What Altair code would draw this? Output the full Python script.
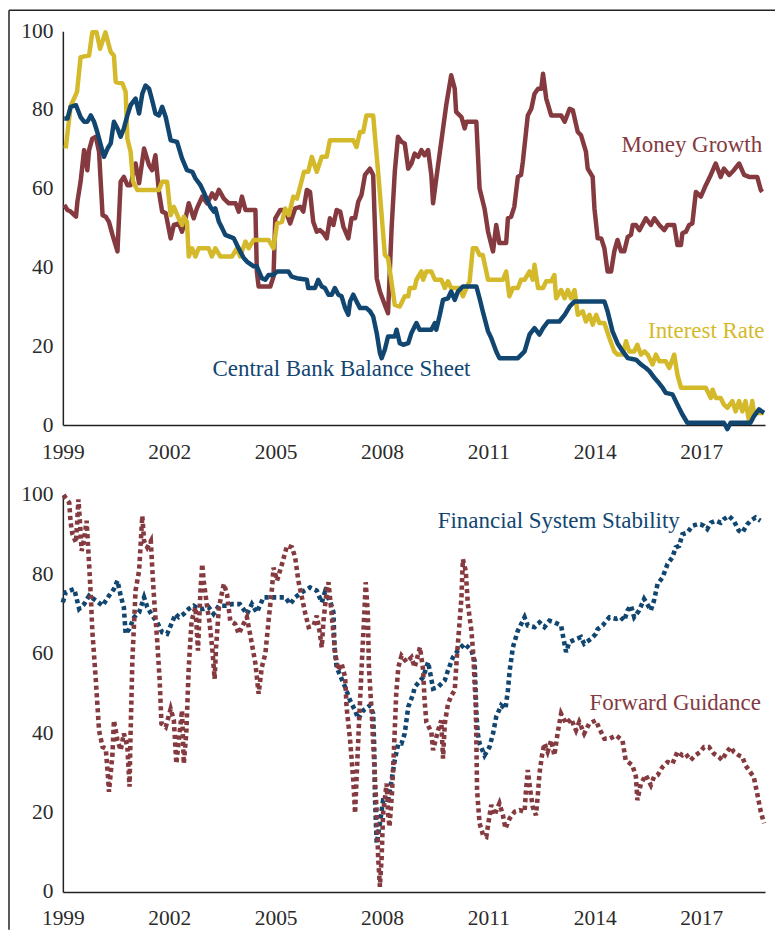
import altair as alt
import pandas as pd

# ---------------- data ----------------
YEAR_TICKS = [1999, 2002, 2005, 2008, 2011, 2014, 2017]
VALUE_TICKS = [0, 20, 40, 60, 80, 100]

mg_year = [1999.04, 1999.13, 1999.22, 1999.37, 1999.41, 1999.5, 1999.6, 1999.69, 1999.74, 1999.83, 1999.93,
           2000.02, 2000.12, 2000.21, 2000.3, 2000.4, 2000.54, 2000.63, 2000.72, 2000.82, 2000.91,
           2001.05, 2001.15, 2001.29, 2001.43, 2001.52, 2001.61, 2001.71, 2001.8, 2001.9,
           2002.04, 2002.13, 2002.27, 2002.36, 2002.46, 2002.55, 2002.69, 2002.78, 2002.93,
           2003.07, 2003.21, 2003.3, 2003.4, 2003.54, 2003.68, 2003.87, 2003.96,
           2004.05, 2004.15, 2004.43, 2004.47, 2004.52, 2004.85, 2004.94, 2004.99,
           2005.13, 2005.27, 2005.41, 2005.55, 2005.69, 2005.78, 2005.88, 2005.97,
           2006.06, 2006.16, 2006.25, 2006.35, 2006.44, 2006.53, 2006.63, 2006.72, 2006.82, 2006.91,
           2007.05, 2007.14, 2007.24, 2007.33, 2007.42, 2007.52, 2007.66, 2007.75, 2007.85, 2007.94,
           2008.08, 2008.17, 2008.27, 2008.36, 2008.45, 2008.55, 2008.64, 2008.74, 2008.83, 2008.92,
           2009.02, 2009.11, 2009.2, 2009.3, 2009.39, 2009.44, 2009.53, 2009.67, 2009.81, 2009.95,
           2010.05, 2010.09, 2010.24, 2010.33, 2010.38, 2010.66, 2010.75, 2010.89, 2010.99,
           2011.13, 2011.22, 2011.31, 2011.5, 2011.55, 2011.64, 2011.73, 2011.83, 2011.92, 2011.97,
           2012.11, 2012.21, 2012.3, 2012.4, 2012.49, 2012.54, 2012.63, 2012.77,
           2013.05, 2013.15, 2013.29, 2013.38, 2013.52, 2013.61, 2013.75, 2013.8, 2013.94, 2013.99,
           2014.08, 2014.18, 2014.27, 2014.36, 2014.46, 2014.55, 2014.64, 2014.74, 2014.83, 2014.93,
           2015.02, 2015.07, 2015.16, 2015.26, 2015.44, 2015.58, 2015.68, 2015.82, 2015.96,
           2016.05, 2016.24, 2016.33, 2016.43, 2016.47, 2016.57, 2016.66, 2016.75, 2016.85, 2016.99,
           2017.13, 2017.27, 2017.41, 2017.55, 2017.64, 2017.79, 2017.92,
           2018.07, 2018.21, 2018.35, 2018.58, 2018.68, 2018.72]
mg_val = [55.9, 54.6, 54.2, 52.9, 56.7, 61.8, 69.8, 64.7, 69.8, 72.7, 73.2,
          69.4, 53.3, 52.9, 51.6, 48.3, 44.1, 61.8, 63.0, 60.9, 60.9,
          66.4, 61.4, 70.2, 66.0, 64.7, 68.5, 59.2, 54.2, 53.8,
          47.4, 50.8, 51.2, 49.1, 52.5, 56.3, 52.5, 55.0, 58.0,
          56.3, 58.8, 57.5, 59.7, 57.5, 56.3, 56.3, 54.2,
          58.0, 54.6, 54.6, 39.0, 35.2, 35.2, 37.7, 52.5,
          54.6, 54.6, 51.2, 55.0, 55.4, 54.2, 59.7, 59.2,
          51.6, 49.1, 49.5, 48.7, 47.4, 52.5, 50.8, 54.6, 54.2, 50.4,
          47.4, 52.5, 52.5, 56.7, 58.4, 63.5, 65.1, 63.5, 37.3, 33.9,
          30.5, 28.4, 50.0, 64.3, 73.2, 71.9, 71.5, 65.1, 66.4, 68.9,
          68.1, 69.8, 68.5, 69.8, 63.5, 56.3, 62.6, 71.9, 81.2, 88.8,
          85.4, 79.5, 78.2, 75.3, 77.0, 77.0, 60.1, 55.0, 49.1,
          44.1, 50.8, 46.2, 46.2, 52.5, 52.9, 55.4, 63.0, 63.5, 66.8,
          78.6, 80.3, 84.1, 85.4, 85.4, 89.2, 82.9, 78.6,
          78.6, 77.0, 80.3, 79.9, 74.4, 73.6, 69.4, 65.1, 63.0, 55.0,
          47.4, 47.4, 44.9, 39.0, 39.0, 44.1, 47.0, 44.1, 44.1, 47.8,
          48.3, 50.8, 50.8, 49.5, 52.5, 50.8, 52.5, 50.8, 49.5,
          50.8, 50.8, 45.7, 45.7, 48.7, 49.1, 50.8, 51.2, 59.2, 58.0,
          60.9, 63.5, 66.4, 63.0, 65.1, 63.5, 64.7,
          66.4, 63.5, 63.0, 63.0, 59.7, 59.2]

ir_year = [1999.08, 1999.22, 1999.4, 1999.5, 1999.74, 1999.83, 1999.95, 2000.05, 2000.2, 2000.35, 2000.44,
           2000.49, 2000.68, 2000.77, 2000.82, 2000.91, 2000.98, 2001.1, 2001.71, 2001.8, 2001.94,
           2002.04, 2002.13, 2002.27, 2002.36, 2002.41, 2002.5, 2002.55, 2002.64, 2002.74, 2002.83,
           2003.11, 2003.2, 2003.3, 2003.44, 2003.77, 2003.91, 2004.0, 2004.15, 2004.24, 2004.38,
           2004.8, 2004.94, 2005.04, 2005.18, 2005.27, 2005.37, 2005.5, 2005.6, 2005.69, 2005.8, 2005.92,
           2006.02, 2006.16, 2006.3, 2006.44, 2006.53, 2007.19, 2007.28, 2007.38, 2007.47, 2007.56,
           2007.75, 2007.89, 2008.08, 2008.17, 2008.36, 2008.5, 2008.64, 2008.74, 2008.78, 2008.92,
           2008.97, 2009.11, 2009.16, 2009.25, 2009.39, 2009.49, 2009.67, 2009.77, 2009.86, 2009.95,
           2010.19, 2010.28, 2010.38, 2010.47, 2010.56, 2010.66, 2010.75, 2010.84, 2010.99,
           2011.41, 2011.5, 2011.59, 2011.69, 2011.83, 2011.92, 2012.02, 2012.16, 2012.25, 2012.3,
           2012.4, 2012.54, 2012.63, 2012.77, 2012.86, 2012.91, 2013.05, 2013.15, 2013.24, 2013.33,
           2013.43, 2013.52, 2013.66, 2013.75, 2013.85, 2013.94, 2014.04, 2014.13, 2014.27, 2014.41,
           2014.55, 2014.64, 2014.79, 2014.88, 2014.97, 2015.11, 2015.2, 2015.3, 2015.4, 2015.49,
           2015.63, 2015.72, 2015.82, 2016.0, 2016.1, 2016.24, 2016.33, 2016.43, 2017.13, 2017.27,
           2017.32, 2017.41, 2017.55, 2017.64, 2017.74, 2017.88, 2017.97, 2018.07, 2018.16, 2018.25,
           2018.35, 2018.44, 2018.49, 2018.63, 2018.77]
ir_val = [70.2, 81.0, 84.6, 93.4, 93.8, 99.7, 99.7, 95.5, 99.7, 94.7, 93.8,
          87.1, 86.7, 84.6, 72.7, 69.4, 61.8, 59.7, 59.7, 61.8, 61.8,
          53.3, 55.4, 52.4, 50.8, 52.9, 51.6, 42.8, 44.9, 42.8, 44.9,
          44.9, 42.8, 44.9, 42.8, 42.8, 44.9, 42.8, 46.6, 44.9, 47.0,
          47.0, 44.9, 51.2, 51.6, 55.0, 53.3, 58.0, 57.5, 60.5, 64.3, 64.3,
          68.1, 64.3, 68.1, 68.1, 72.3, 72.3, 70.6, 74.4, 74.4, 78.6,
          78.6, 64.3, 43.2, 42.4, 30.5, 30.1, 32.7, 32.7, 34.8, 34.8,
          36.9, 39.0, 36.9, 39.0, 39.0, 36.9, 36.9, 34.8, 36.5, 34.8,
          34.8, 32.7, 34.8, 36.5, 44.9, 44.9, 43.2, 43.2, 36.9,
          36.9, 39.0, 32.7, 34.8, 34.8, 36.9, 36.9, 39.0, 36.9, 40.7,
          34.8, 34.8, 36.5, 36.5, 38.1, 32.2, 34.3, 32.2, 34.3, 32.2,
          34.3, 28.0, 28.9, 26.3, 28.0, 25.5, 28.0, 25.9, 25.9, 22.1,
          18.7, 17.9, 17.9, 21.3, 18.7, 18.7, 20.4, 17.9, 18.7, 17.9,
          15.4, 17.9, 16.2, 16.2, 14.5, 17.9, 12.8, 9.5, 9.5, 6.9,
          9.0, 6.9, 6.9, 5.2, 4.4, 6.1, 3.5, 6.1, 3.5, 6.1,
          1.0, 6.1, 3.1, 3.1, 3.1]

cb_year = [1999.04, 1999.13, 1999.22, 1999.37, 1999.5, 1999.6, 1999.69, 1999.79, 1999.88, 1999.97,
           2000.07, 2000.16, 2000.26, 2000.35, 2000.44, 2000.54, 2000.63, 2000.72, 2000.82, 2000.91,
           2001.05, 2001.15, 2001.24, 2001.33, 2001.43, 2001.52, 2001.61, 2001.71, 2001.8, 2001.9,
           2002.04, 2002.22, 2002.36, 2002.5, 2002.65, 2002.74, 2002.88, 2002.97,
           2003.07, 2003.16, 2003.26, 2003.3, 2003.4, 2003.49, 2003.58, 2003.72, 2003.82, 2003.91,
           2004.0, 2004.1, 2004.19, 2004.38, 2004.47, 2004.61, 2004.71, 2004.8, 2004.94,
           2005.04, 2005.36, 2005.45, 2005.6, 2005.88, 2005.92, 2006.11, 2006.2, 2006.3, 2006.39,
           2006.49, 2006.58, 2006.67, 2006.77, 2006.86, 2006.96, 2007.05, 2007.1, 2007.19, 2007.28,
           2007.38, 2007.56, 2007.66, 2007.75, 2007.85, 2007.94, 2007.99, 2008.08, 2008.17, 2008.36,
           2008.41, 2008.5, 2008.6, 2008.74, 2008.83, 2008.97, 2009.06, 2009.39, 2009.49, 2009.53,
           2009.63, 2009.72, 2009.86, 2009.95, 2010.05, 2010.14, 2010.28, 2010.66, 2010.75, 2010.84,
           2010.99, 2011.08, 2011.22, 2011.31, 2011.83, 2012.02, 2012.16, 2012.3, 2012.44, 2012.54,
           2012.68, 2013.0, 2013.15, 2013.29, 2013.43, 2014.27, 2014.36, 2014.5, 2014.64, 2014.79,
           2014.93, 2015.16, 2015.3, 2015.44, 2015.54, 2015.68, 2015.77, 2015.91, 2016.0, 2016.19,
           2016.33, 2016.47, 2016.61, 2017.64, 2017.74, 2017.83, 2018.39, 2018.49, 2018.63, 2018.77]
cb_val = [77.8, 77.8, 80.8, 81.2, 78.2, 77.0, 77.0, 78.6, 77.0, 74.4,
          71.1, 68.1, 70.2, 71.5, 77.0, 75.3, 73.2, 75.3, 78.6, 81.2,
          82.9, 79.1, 84.1, 86.2, 85.4, 82.4, 79.1, 78.6, 80.8, 78.2,
          72.3, 71.9, 67.7, 64.7, 64.3, 62.6, 60.9, 59.2,
          57.1, 55.4, 54.2, 55.0, 51.6, 50.0, 48.3, 47.8, 47.4, 45.7,
          44.1, 42.4, 41.5, 40.3, 40.3, 37.3, 36.9, 38.1, 38.1,
          39.0, 39.0, 37.7, 37.3, 36.9, 34.8, 34.8, 36.9, 35.2, 34.8,
          33.1, 33.1, 34.8, 33.1, 32.7, 29.7, 28.0, 31.4, 33.1, 31.4,
          29.7, 29.7, 28.9, 27.6, 23.4, 18.3, 17.0, 19.2, 22.5, 22.5,
          24.2, 20.8, 20.4, 20.8, 23.4, 25.9, 24.2, 24.2, 25.9, 24.2,
          28.0, 31.8, 32.2, 33.9, 31.8, 33.9, 35.2, 35.2, 32.2, 28.9,
          23.8, 22.1, 18.7, 17.0, 17.0, 18.7, 23.0, 24.6, 23.0, 24.6,
          26.3, 26.3, 28.0, 30.1, 31.4, 31.4, 28.9, 23.8, 20.8, 18.7,
          17.0, 16.6, 15.4, 14.5, 13.7, 12.0, 11.1, 9.5, 8.2, 7.8,
          5.2, 2.7, 0.6, 0.6, -1.0, 0.6, 0.6, 2.3, 4.0, 3.1]

fss_year = [1999.0, 1999.08, 1999.32, 1999.46, 1999.6, 1999.74, 1999.93, 2000.12, 2000.3, 2000.44,
            2000.54, 2000.63, 2000.72, 2000.77, 2000.87, 2001.01, 2001.15, 2001.29, 2001.38, 2001.52,
            2001.66, 2001.8, 2001.94, 2002.08, 2002.18, 2002.27, 2002.41, 2002.55, 2002.69, 2002.83,
            2002.97, 2003.11, 2003.25, 2003.4, 2003.58, 2003.77, 2003.99, 2004.19, 2004.33, 2004.47,
            2004.66, 2005.27, 2005.41, 2005.55, 2005.74, 2005.97, 2006.16, 2006.3, 2006.39, 2006.55,
            2006.63, 2006.66, 2006.72, 2006.82, 2006.96, 2007.1, 2007.24, 2007.33, 2007.47, 2007.66,
            2007.75, 2007.78, 2007.8, 2007.85, 2007.94, 2008.03, 2008.17, 2008.27, 2008.36, 2008.46,
            2008.55, 2008.64, 2008.74, 2008.88, 2008.92, 2009.16, 2009.3, 2009.44, 2009.58, 2009.77,
            2009.86, 2010.0, 2010.14, 2010.33, 2010.52, 2010.61, 2010.66, 2010.7, 2010.75, 2010.89,
            2011.03, 2011.13, 2011.22, 2011.36, 2011.48, 2011.55, 2011.6, 2011.69, 2011.83, 2012.02,
            2012.11, 2012.3, 2012.44, 2012.58, 2012.72, 2012.86, 2013.05, 2013.1, 2013.19, 2013.28,
            2013.47, 2013.61, 2013.7, 2013.89, 2014.03, 2014.08, 2014.22, 2014.41, 2014.6, 2014.73,
            2014.83, 2014.92, 2015.02, 2015.11, 2015.25, 2015.39, 2015.48, 2015.58, 2015.67, 2015.77,
            2015.91, 2016.05, 2016.19, 2016.28, 2016.38, 2016.47, 2016.61, 2016.75, 2016.89, 2016.98,
            2017.08, 2017.17, 2017.27, 2017.41, 2017.55, 2017.64, 2017.78, 2017.92, 2018.06, 2018.16,
            2018.3, 2018.39, 2018.53, 2018.67]
fss_val = [72.9, 75.5, 76.3, 71.3, 72.5, 74.6, 73.4, 72.1, 74.6, 76.3,
           78.4, 74.6, 71.7, 65.0, 66.2, 69.2, 70.4, 74.2, 71.7, 69.6,
           67.9, 65.4, 65.0, 67.9, 70.0, 69.2, 70.0, 71.3, 72.1, 71.3,
           71.3, 71.7, 70.0, 72.1, 72.1, 72.5, 72.5, 70.0, 72.5, 70.4,
           74.2, 74.2, 72.5, 74.2, 75.5, 76.7, 75.9, 72.9, 75.5, 72.9,
           70.4, 61.6, 56.6, 54.5, 51.6, 48.2, 45.7, 43.6, 45.7, 47.0,
           44.9, 36.5, 24.0, 12.2, 17.3, 23.1, 23.1, 28.1, 33.2, 37.4,
           37.4, 39.9, 46.6, 49.9, 51.6, 54.1, 57.9, 51.2, 51.6, 53.3,
           55.8, 59.1, 60.8, 62.5, 60.8, 58.3, 45.0, 39.9, 37.4, 34.4,
           36.5, 39.9, 44.1, 47.0, 46.1, 50.8, 55.8, 61.6, 65.8, 69.2,
           67.1, 66.7, 67.9, 66.7, 68.3, 67.9, 67.1, 64.6, 60.4, 62.9,
           63.7, 64.2, 62.5, 63.7, 65.0, 66.2, 67.1, 69.2, 68.8, 69.2,
           68.3, 70.9, 72.1, 69.2, 70.9, 73.8, 72.5, 70.9, 73.4, 77.6,
           79.2, 82.6, 84.3, 86.8, 87.2, 90.1, 90.5, 92.2, 92.6, 92.6,
           92.2, 91.4, 93.0, 93.5, 93.0, 93.9, 94.7, 93.5, 91.0, 90.5,
           92.6, 93.5, 94.3, 93.5]

fg_year = [1999.02, 1999.18, 1999.22, 1999.27, 1999.37, 1999.44, 1999.48, 1999.53, 1999.6, 1999.67,
           1999.74, 1999.79, 1999.83, 1999.93, 2000.02, 2000.12, 2000.21, 2000.28, 2000.3, 2000.4,
           2000.44, 2000.54, 2000.63, 2000.72, 2000.82, 2000.88, 2000.91, 2000.96, 2001.05, 2001.15,
           2001.24, 2001.29, 2001.38, 2001.48, 2001.52, 2001.57, 2001.66, 2001.73, 2001.78, 2001.9,
           2002.04, 2002.13, 2002.2, 2002.27, 2002.36, 2002.41, 2002.48, 2002.55, 2002.63, 2002.74,
           2002.81, 2002.88, 2002.93, 2002.97, 2003.07, 2003.13, 2003.21, 2003.28, 2003.32, 2003.4,
           2003.54, 2003.63, 2003.72, 2003.86, 2003.96, 2004.05, 2004.19, 2004.33, 2004.43, 2004.52,
           2004.61, 2004.71, 2004.8, 2004.9, 2004.94, 2005.04, 2005.18, 2005.32, 2005.46, 2005.55,
           2005.64, 2005.74, 2005.83, 2005.93, 2006.07, 2006.16, 2006.25, 2006.3, 2006.35, 2006.44,
           2006.49, 2006.58, 2006.68, 2006.77, 2006.86, 2006.96, 2007.0, 2007.1, 2007.19, 2007.24,
           2007.28, 2007.35, 2007.43, 2007.5, 2007.54, 2007.6, 2007.63, 2007.71, 2007.78, 2007.85,
           2007.89, 2007.94, 2007.99, 2008.03, 2008.13, 2008.17, 2008.21, 2008.28, 2008.34, 2008.4,
           2008.46, 2008.55, 2008.69, 2008.83, 2008.92, 2009.07, 2009.16, 2009.2, 2009.25, 2009.39,
           2009.44, 2009.58, 2009.67, 2009.72, 2009.77, 2009.86, 2009.96, 2010.05, 2010.11, 2010.19,
           2010.24, 2010.28, 2010.36, 2010.42, 2010.52, 2010.58, 2010.61, 2010.64, 2010.66, 2010.68,
           2010.75, 2010.85, 2010.94, 2010.99, 2011.08, 2011.17, 2011.31, 2011.41, 2011.48, 2011.6,
           2011.74, 2011.88, 2012.02, 2012.06, 2012.11, 2012.18, 2012.25, 2012.34, 2012.39, 2012.44,
           2012.51, 2012.58, 2012.67, 2012.77, 2012.86, 2012.95, 2013.05, 2013.19, 2013.33, 2013.47,
           2013.56, 2013.7, 2013.84, 2014.03, 2014.13, 2014.27, 2014.41, 2014.6, 2014.78, 2014.87,
           2015.06, 2015.16, 2015.2, 2015.3, 2015.44, 2015.58, 2015.67, 2015.77, 2015.91, 2016.05,
           2016.19, 2016.33, 2016.47, 2016.56, 2016.7, 2016.84, 2016.98, 2017.08, 2017.22, 2017.36,
           2017.5, 2017.59, 2017.69, 2017.83, 2017.92, 2018.06, 2018.16, 2018.25, 2018.34, 2018.48,
           2018.58, 2018.67, 2018.77]
fg_val = [100.0, 98.0, 93.0, 90.1, 88.0, 98.9, 93.5, 85.9, 88.9, 93.5,
          82.6, 74.2, 65.8, 53.3, 40.7, 36.5, 36.1, 28.1, 25.2, 34.8,
          43.2, 38.2, 35.7, 39.9, 36.5, 26.5, 39.9, 58.3, 75.9, 80.9,
          94.7, 88.4, 86.8, 88.4, 81.7, 74.2, 63.3, 53.3, 42.4, 41.5,
          46.1, 43.2, 32.3, 38.2, 45.7, 32.3, 39.9, 56.6, 68.3, 71.7,
          60.8, 75.9, 82.6, 78.4, 71.7, 68.3, 61.6, 53.7, 61.6, 71.7,
          77.6, 75.0, 68.3, 67.5, 65.0, 66.7, 69.2, 62.5, 57.5, 49.9,
          56.6, 60.0, 68.3, 76.7, 81.7, 78.4, 82.6, 87.2, 86.8, 84.3,
          78.4, 74.2, 70.4, 66.7, 67.1, 69.6, 65.0, 61.6, 68.3, 75.9,
          78.0, 70.0, 60.0, 55.8, 57.5, 54.1, 46.6, 38.2, 28.1, 19.8,
          28.1, 42.4, 57.5, 70.0, 78.0, 70.0, 56.6, 44.9, 32.3, 19.8,
          8.9, 1.3, 8.9, 19.8, 27.3, 19.8, 16.4, 24.8, 36.5, 49.9,
          56.6, 59.5, 57.9, 59.1, 56.6, 61.6, 55.8, 48.2, 42.8, 40.3,
          35.7, 40.7, 43.2, 33.6, 42.4, 47.4, 49.5, 50.8, 59.1, 68.3,
          74.2, 83.8, 80.9, 72.5, 65.8, 59.1, 52.4, 48.2, 38.2, 25.6,
          17.3, 14.3, 13.9, 16.8, 21.9, 19.3, 22.3, 19.3, 16.0, 18.5,
          20.2, 20.6, 20.2, 25.6, 30.7, 25.6, 21.4, 19.3, 24.0, 29.8,
          34.4, 37.4, 35.3, 38.2, 34.4, 39.9, 44.9, 42.4, 43.6, 40.7,
          42.8, 39.9, 42.4, 43.2, 41.1, 38.6, 38.6, 39.4, 38.2, 33.2,
          31.9, 29.0, 23.1, 27.3, 29.4, 26.9, 29.0, 29.4, 31.5, 32.7,
          32.3, 35.3, 34.4, 34.8, 33.2, 34.4, 35.3, 36.5, 36.5, 34.8,
          34.0, 33.2, 34.8, 36.5, 35.3, 34.4, 34.0, 31.9, 30.7, 29.0,
          24.8, 20.6, 17.3]

SERIES = ["Money Growth", "Interest Rate", "Central Bank Balance Sheet",
          "Financial System Stability", "Forward Guidance"]
COLORS = ["#843A3F", "#D4BA2B", "#114670", "#114670", "#843A3F"]

TOP_LABELS = ["Money Growth", "Interest Rate", "Central Bank Balance Sheet"]
BOTTOM_LABELS = ["Financial System Stability", "Forward Guidance"]

# ---------------- build tables ----------------
def series_df(years, vals, name):
    return pd.DataFrame({"year": years, "value": vals, "series": name,
                         "idx": list(range(len(years)))})

top_df = pd.concat([series_df(mg_year, mg_val, SERIES[0]),
                    series_df(ir_year, ir_val, SERIES[1]),
                    series_df(cb_year, cb_val, SERIES[2])], ignore_index=True)
bot_df = pd.concat([series_df(fss_year, fss_val, SERIES[3]),
                    series_df(fg_year, fg_val, SERIES[4])], ignore_index=True)

# label anchors (left edge, vertical centre) in data units
top_lab = pd.DataFrame({"series": TOP_LABELS,
                        "year": [2014.75, 2015.5, 2003.22],
                        "value": [71.0, 23.8, 14.2]})
bot_lab = pd.DataFrame({"series": BOTTOM_LABELS,
                        "year": [2009.57, 2013.85],
                        "value": [93.5, 47.5]})

FONT = "Liberation Serif"
color_scale = alt.Scale(domain=SERIES, range=COLORS)
x_scale = alt.Scale(domain=[1999, 2018.8], nice=False, zero=False)
y_scale = alt.Scale(domain=[0, 100], nice=False)

x_axis = alt.Axis(values=YEAR_TICKS, format="d", title=None, ticks=False, tickSize=0,
                  grid=False, labelFlush=False, labelOverlap=False, labelPadding=16,
                  labelFont=FONT, labelFontSize=21.5, labelColor="#2b2b2b",
                  domainColor="#222222", domainWidth=1.5)
y_axis = alt.Axis(values=VALUE_TICKS, title=None, ticks=False, tickSize=0, grid=False,
                  labelPadding=10, labelFont=FONT, labelFontSize=21.5, labelColor="#2b2b2b",
                  domainColor="#222222", domainWidth=1.5)

X = alt.X("year:Q", scale=x_scale, axis=x_axis)
Y = alt.Y("value:Q", scale=y_scale, axis=y_axis)
C = alt.Color("series:N", scale=color_scale, legend=None)

W = 704
H_TOP = 395
H_BOT = 398

top_lines = alt.Chart(top_df).mark_line(strokeWidth=4.5, strokeJoin="round").encode(
    x=X, y=Y, color=C, order="idx:Q")
top_text = alt.Chart(top_lab).mark_text(align="left", baseline="middle", font=FONT,
                                        fontSize=23).encode(x=X, y=Y, color=C, text="series:N")
frame_df = pd.DataFrame({"k": [0]})
frame_top = alt.Chart(frame_df).mark_rule(color="#222222", strokeWidth=1.5).encode(
    x=alt.value(-54), x2=alt.value(714), y=alt.value(-21))
frame_left = alt.Chart(frame_df).mark_rule(color="#222222", strokeWidth=1.5).encode(
    x=alt.value(-54), y=alt.value(-21), y2=alt.value(901))

top_chart = alt.layer(top_lines, top_text, frame_top, frame_left).properties(
    width=W, height=H_TOP)

bot_lines = alt.Chart(bot_df).mark_line(strokeWidth=4.6, strokeDash=[4.2, 3.4],
                                        strokeCap="butt").encode(
    x=X, y=Y, color=C, order="idx:Q")
bot_text = alt.Chart(bot_lab).mark_text(align="left", baseline="middle", font=FONT,
                                        fontSize=23).encode(x=X, y=Y, color=C, text="series:N")
bot_chart = alt.layer(bot_lines, bot_text).properties(width=W, height=H_BOT)

chart = alt.vconcat(top_chart, bot_chart, spacing=70, bounds="flush").properties(
    padding=0, background="white"
).configure_view(stroke=None)

chart.save("out.html", embed_options={"renderer": "svg", "actions": False})
